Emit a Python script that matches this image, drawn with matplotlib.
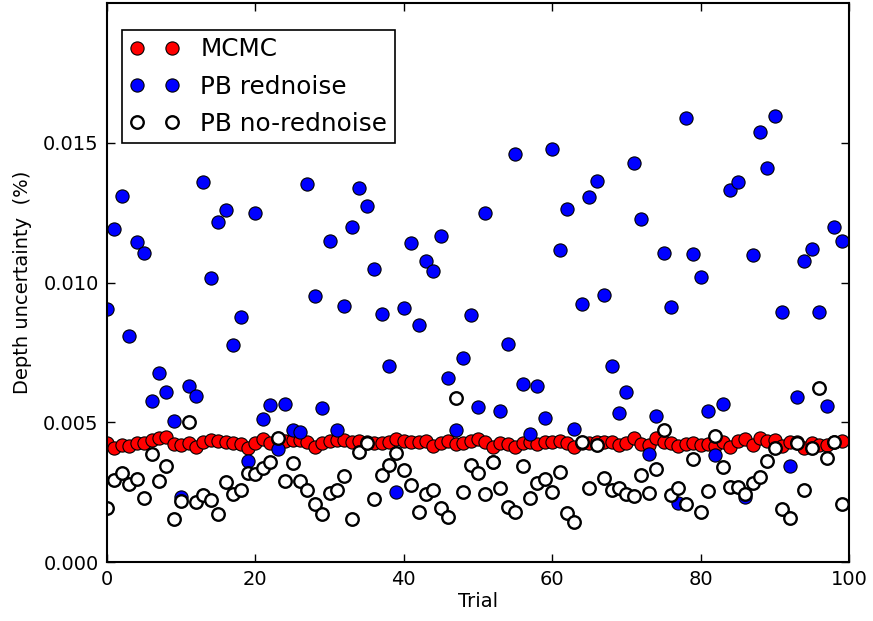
import numpy as np
import matplotlib
matplotlib.use("Agg")
import matplotlib.pyplot as plt

trials = list(range(100))

mcmc = [0.00426, 0.00408, 0.00419, 0.00415, 0.00426, 0.00426, 0.00437, 0.00444, 0.00447, 0.00422,
        0.00419, 0.00426, 0.00412, 0.00429, 0.00437, 0.00433, 0.00428, 0.00426, 0.00422, 0.00408,
        0.00426, 0.00440, 0.00426, 0.00440, 0.00433, 0.00437, 0.00437, 0.00429, 0.00412, 0.00426,
        0.00433, 0.00437, 0.00437, 0.00429, 0.00433, 0.00429, 0.00426, 0.00426, 0.00429, 0.00440,
        0.00433, 0.00429, 0.00429, 0.00433, 0.00415, 0.00426, 0.00433, 0.00422, 0.00426, 0.00433,
        0.00440, 0.00429, 0.00412, 0.00426, 0.00422, 0.00412, 0.00426, 0.00429, 0.00422, 0.00429,
        0.00429, 0.00433, 0.00426, 0.00412, 0.00426, 0.00426, 0.00429, 0.00429, 0.00429, 0.00419,
        0.00426, 0.00444, 0.00422, 0.00419, 0.00444, 0.00429, 0.00426, 0.00415, 0.00422, 0.00426,
        0.00419, 0.00422, 0.00415, 0.00429, 0.00412, 0.00433, 0.00440, 0.00419, 0.00444, 0.00433,
        0.00437, 0.00415, 0.00429, 0.00429, 0.00408, 0.00426, 0.00419, 0.00419, 0.00429, 0.00433]

pb_rednoise = [0.00906, 0.01192, 0.01310, 0.00809, 0.01145, 0.01106, 0.00576, 0.00676, 0.00608, 0.00505,
               0.00233, 0.00630, 0.00594, 0.01360, 0.01016, 0.01217, 0.01260, 0.00777, 0.00877, 0.00360,
               0.01250, 0.00512, 0.00562, 0.00404, 0.00565, 0.00472, 0.00465, 0.01353, 0.00952, 0.00551,
               0.01149, 0.00472, 0.00916, 0.01200, 0.01339, 0.01274, 0.01049, 0.00888, 0.00701, 0.00250,
               0.00909, 0.01142, 0.00848, 0.01077, 0.01042, 0.01167, 0.00659, 0.00472, 0.00730, 0.00884,
               0.00555, 0.01250, 0.00358, 0.00540, 0.00780, 0.01460, 0.00637, 0.00458, 0.00630, 0.00515,
               0.01478, 0.01117, 0.01263, 0.00476, 0.00923, 0.01306, 0.01364, 0.00956, 0.00701, 0.00533,
               0.00608, 0.01428, 0.01228, 0.00387, 0.00523, 0.01106, 0.00913, 0.00211, 0.01589, 0.01102,
               0.01020, 0.00540, 0.00383, 0.00565, 0.01331, 0.01360, 0.00233, 0.01100, 0.01539, 0.01410,
               0.01596, 0.00895, 0.00344, 0.00590, 0.01077, 0.01120, 0.00895, 0.00558, 0.01200, 0.01149]

pb_noredn = [0.00193, 0.00293, 0.00318, 0.00279, 0.00297, 0.00229, 0.00387, 0.00290, 0.00344, 0.00154,
             0.00218, 0.00501, 0.00215, 0.00240, 0.00222, 0.00172, 0.00286, 0.00243, 0.00258, 0.00318,
             0.00315, 0.00336, 0.00358, 0.00444, 0.00290, 0.00354, 0.00290, 0.00258, 0.00208, 0.00172,
             0.00247, 0.00258, 0.00308, 0.00154, 0.00394, 0.00426, 0.00225, 0.00311, 0.00347, 0.00390,
             0.00329, 0.00276, 0.00179, 0.00243, 0.00258, 0.00193, 0.00161, 0.00587, 0.00250, 0.00347,
             0.00318, 0.00243, 0.00358, 0.00265, 0.00197, 0.00179, 0.00344, 0.00229, 0.00283, 0.00297,
             0.00250, 0.00322, 0.00175, 0.00143, 0.00430, 0.00265, 0.00419, 0.00300, 0.00258, 0.00265,
             0.00243, 0.00236, 0.00311, 0.00247, 0.00333, 0.00472, 0.00240, 0.00265, 0.00208, 0.00369,
             0.00179, 0.00254, 0.00451, 0.00340, 0.00268, 0.00268, 0.00243, 0.00283, 0.00304, 0.00361,
             0.00408, 0.00190, 0.00157, 0.00426, 0.00258, 0.00408, 0.00623, 0.00372, 0.00430, 0.00208]

xticks = [0, 20, 40, 60, 80, 100]
yticks = [0.000, 0.005, 0.010, 0.015]
ytick_labels = ["0.000", "0.005", "0.010", "0.015"]

plt.rcParams['font.family'] = ['DejaVu Sans']
fig = plt.figure(figsize=(8.73, 6.21), dpi=100)
ax = fig.add_axes([107/873, 1 - 562/621, (849-107)/873, (562-3)/621])

ax.plot(trials, mcmc, 'o', ls='none', ms=9.5, mfc='red', mec='black', mew=0.8, label='MCMC')
ax.plot(trials, pb_rednoise, 'o', ls='none', ms=9.5, mfc='blue', mec='black', mew=0.8, label='PB rednoise')
ax.plot(trials, pb_noredn, 'o', ls='none', ms=9, mfc='white', mec='black', mew=1.7, label='PB no-rednoise')

ax.set_xlim(0, 100)
ax.set_ylim(0, 0.02)
ax.set_xticks(xticks)
ax.set_yticks(yticks)
ax.set_yticklabels(ytick_labels)
ax.tick_params(direction='in', top=True, right=True, length=6, width=1, labelsize=14, pad=6)
for s in ax.spines.values():
    s.set_linewidth(1.5)
ax.set_xlabel('Trial', fontsize=14, labelpad=2)
ax.set_ylabel('Depth uncertainty  (%)', fontsize=14, labelpad=8)

leg = ax.legend(loc='upper left', bbox_to_anchor=(122/873, 1 - 30/621), bbox_transform=fig.transFigure,
                numpoints=2, fontsize=17.8, fancybox=False, framealpha=1,
                edgecolor='black', borderaxespad=0, handlelength=2.04, labelspacing=0.53,
                handletextpad=0.83, borderpad=0.3)
leg.get_frame().set_linewidth(1.2)

fig.savefig('out.png', dpi=100, facecolor='white')
